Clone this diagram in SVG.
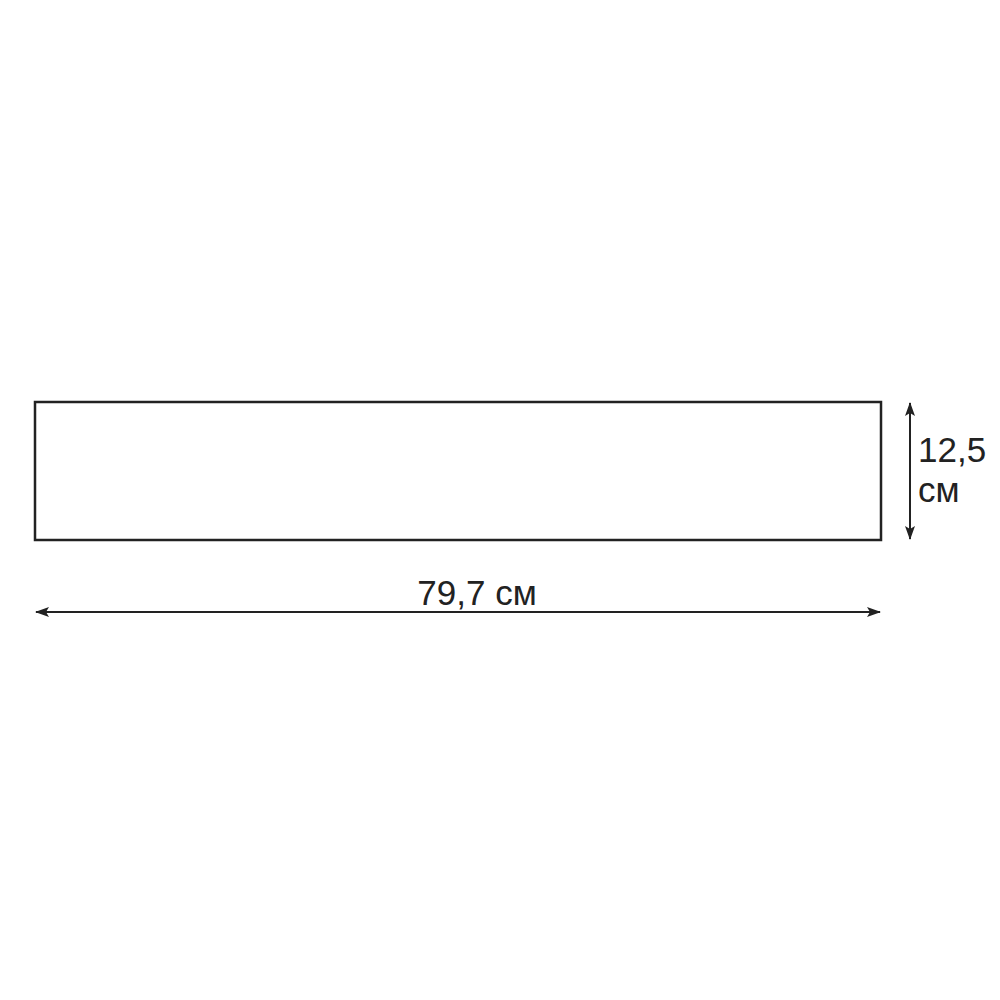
<svg xmlns="http://www.w3.org/2000/svg" width="1000" height="1000" viewBox="0 0 1000 1000">
<style>
.t{font-family:"Liberation Sans",Arial,sans-serif;font-size:35px;fill:#222}
.d{stroke:#222;stroke-width:2;fill:none}
</style>
<defs>
<marker id="ah" viewBox="0 0 14 10" refX="13" refY="5" markerWidth="14" markerHeight="10" markerUnits="userSpaceOnUse" orient="auto-start-reverse">
<path d="M0,0 L14,5 L0,10 L3,5 Z" fill="#222"/>
</marker>
</defs>
<rect width="1000" height="1000" fill="#fff"/>
<g id="panel">
<rect x="35" y="402" width="846" height="138" fill="#fff" stroke="#222" stroke-width="2.5"/>
</g>
<g id="connectors">
<line class="d" x1="36" y1="612" x2="880" y2="612" marker-start="url(#ah)" marker-end="url(#ah)"/>
<line class="d" x1="910" y1="403" x2="910" y2="539" marker-start="url(#ah)" marker-end="url(#ah)"/>
</g>
<g id="labels">
<text class="t" x="477" y="605" text-anchor="middle">79,7 см</text>
<text class="t" x="918" y="462">12,5</text>
<text class="t" x="918" y="502">см</text>
</g>
</svg>
